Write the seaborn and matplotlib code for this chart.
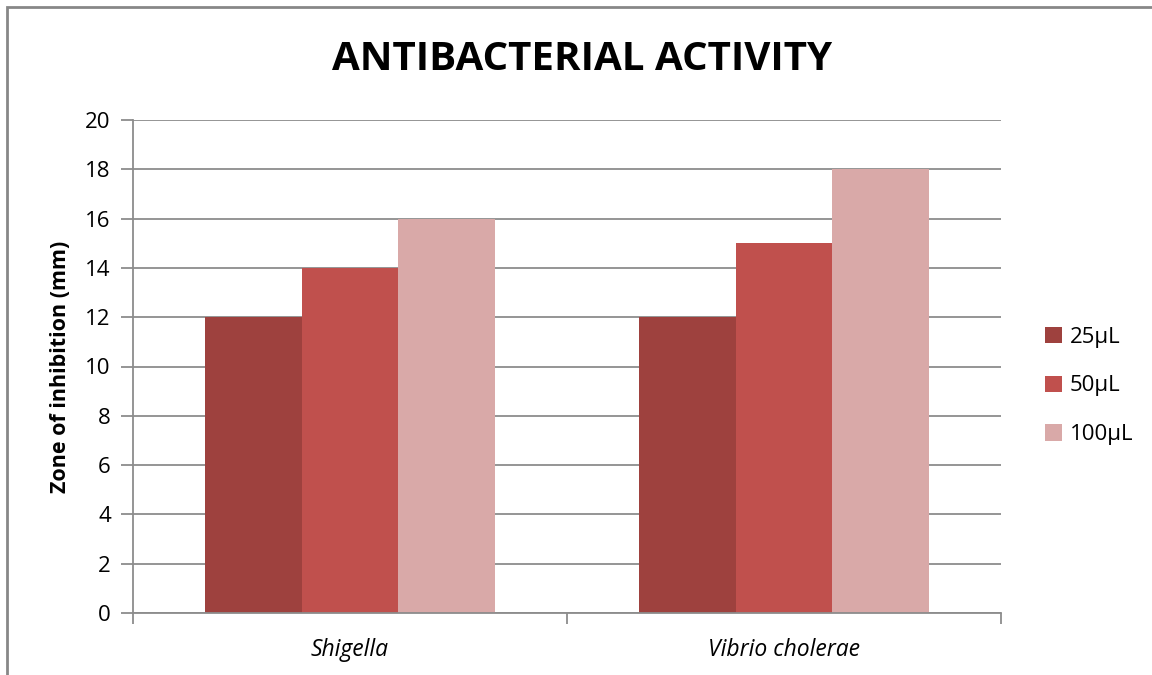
import matplotlib
matplotlib.use("Agg")
import matplotlib.pyplot as plt
from matplotlib.patches import Patch, Rectangle
import seaborn as sns
import pandas as pd

# Data
organisms = ["Shigella", "Vibrio cholerae"]
volumes = ["25µL", "50µL", "100µL"]
zone_25 = [12, 12]
zone_50 = [14, 15]
zone_100 = [16, 18]
y_ticks = [0, 2, 4, 6, 8, 10, 12, 14, 16, 18, 20]

colors = ["#9E413E", "#C0504D", "#D9A9A8"]

rows = []
for vol, vals in zip(volumes, [zone_25, zone_50, zone_100]):
    for org, v in zip(organisms, vals):
        rows.append({"Organism": org, "Volume": vol, "Zone": v})
df = pd.DataFrame(rows)

sns.set_theme(style="white")
plt.rcParams["font.family"] = ["Open Sans", "DejaVu Sans"]
plt.rcParams["text.color"] = "black"
plt.rcParams["axes.labelcolor"] = "black"
plt.rcParams["xtick.labelcolor"] = "black"
plt.rcParams["ytick.labelcolor"] = "black"

fig = plt.figure(figsize=(11.52, 6.75), dpi=100)
ax = fig.add_axes([133 / 1152, 1 - 613 / 675, (1001 - 133) / 1152, (613 - 120) / 675])

sns.barplot(data=df, x="Organism", y="Zone", hue="Volume", order=organisms,
            hue_order=volumes, palette=colors, width=0.667, gap=0,
            saturation=1, linewidth=0, ax=ax, legend=False)

ax.set_ylim(0, 20)
ax.set_yticks(y_ticks)
ax.set_xlim(-0.5, 1.5)
ax.yaxis.grid(True, color="#8c8c8c", linewidth=1.3)
ax.set_axisbelow(True)

for side in ["top", "right"]:
    ax.spines[side].set_visible(False)
for side in ["left", "bottom"]:
    ax.spines[side].set_color("#8c8c8c")
    ax.spines[side].set_linewidth(1.3)

ax.tick_params(axis="y", which="both", left=True, length=9, width=1.3,
               color="#8c8c8c", labelsize=16, pad=7, labelcolor="black")
ax.set_xticks([0, 1])
ax.set_xticklabels(organisms, fontsize=16.5, style="italic", color="black")
ax.tick_params(axis="x", bottom=False, pad=12, labelcolor="black")
# category boundary ticks
ax.set_xticks([-0.5, 0.5, 1.5], minor=True)
ax.tick_params(axis="x", which="minor", bottom=True, length=8, width=1.3,
               color="#8c8c8c")

ax.set_xlabel("")
ax.set_ylabel("Zone of inhibition (mm)", fontsize=15.5, fontweight="bold",
              labelpad=10, color="black")

fig.text(582 / 1152, 1 - 60 / 675, "ANTIBACTERIAL ACTIVITY", ha="center",
         va="center", fontsize=29, fontweight="bold", color="black")

handles = [Patch(facecolor=c, edgecolor="none", label=v)
           for c, v in zip(colors, volumes)]
leg = fig.legend(handles=handles, loc="center left",
                 bbox_to_anchor=(1025 / 1152, 1 - 386 / 675), frameon=False,
                 fontsize=16, handlelength=0.75, handleheight=0.75,
                 handletextpad=0.35, labelspacing=1.25)
for t in leg.get_texts():
    t.set_color("black")

# chart border
fig.patches.append(Rectangle((7 / 1152, -0.1), 1.2, 1 - 7 / 675 + 0.1,
                             transform=fig.transFigure, fill=False,
                             edgecolor="#878787", linewidth=2))

fig.savefig("out.png", dpi=100)
